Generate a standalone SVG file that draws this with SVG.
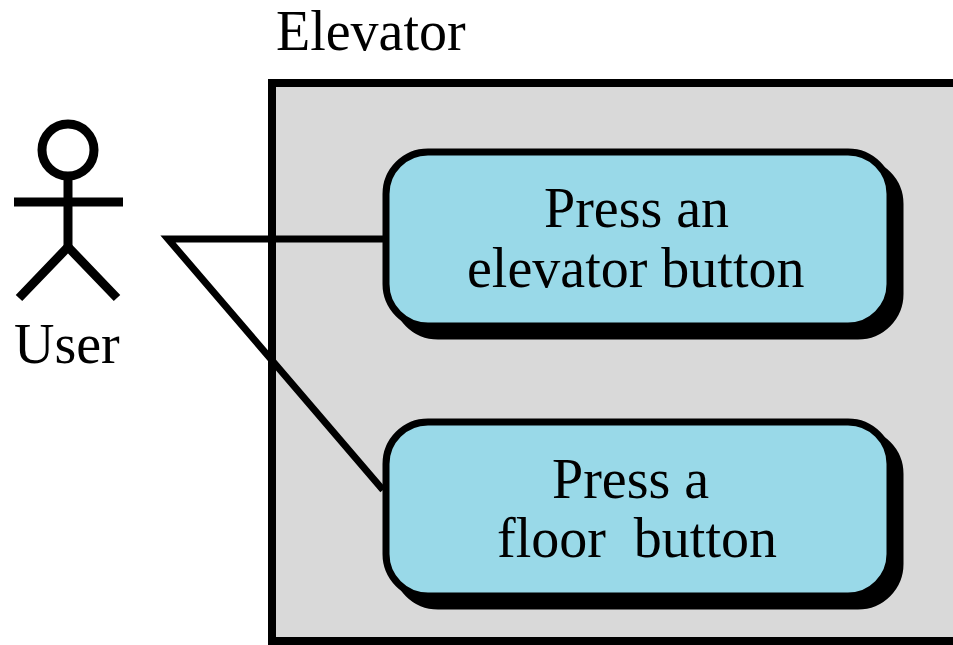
<svg xmlns="http://www.w3.org/2000/svg" width="953" height="645" viewBox="0 0 953 645">
<style>
text{font-family:"Liberation Serif","Times New Roman",serif;font-size:56px;fill:#000;white-space:pre}
.uc{fill:#99d9e8;stroke:#000;stroke-width:7}
.sh{fill:#000;stroke:#000;stroke-width:7}
.ln{stroke:#000;stroke-width:7;fill:none;stroke-linecap:butt}
.act{stroke:#000;stroke-width:9;fill:none}
</style>
<rect width="953" height="645" fill="#fff"/>
<g id="system">
<rect x="272" y="83" width="700" height="558" fill="#d9d9d9" stroke="#000" stroke-width="8"/>
<text x="276" y="50">Elevator</text>
</g>
<g id="connectors">
<polyline class="ln" points="386,239 168,239 383,490"/>
</g>
<g id="user">
<circle class="act" cx="68" cy="150" r="26"/>
<line class="act" x1="68" y1="176" x2="68" y2="247"/>
<line class="act" x1="14" y1="202" x2="123" y2="202"/>
<polyline class="act" points="19,298 68,247 117,298"/>
<text x="14" y="363">User</text>
</g>
<g id="uc1">
<rect class="sh" x="396" y="162" width="504" height="174" rx="42"/>
<rect class="uc" x="386" y="152" width="504" height="174" rx="42"/>
<text x="544" y="227">Press an</text>
<text x="467" y="287">elevator button</text>
</g>
<g id="uc2">
<rect class="sh" x="396" y="432" width="504" height="174" rx="42"/>
<rect class="uc" x="386" y="422" width="504" height="174" rx="42"/>
<text x="552" y="498">Press a</text>
<text x="497" y="557">floor  button</text>
</g>
</svg>
